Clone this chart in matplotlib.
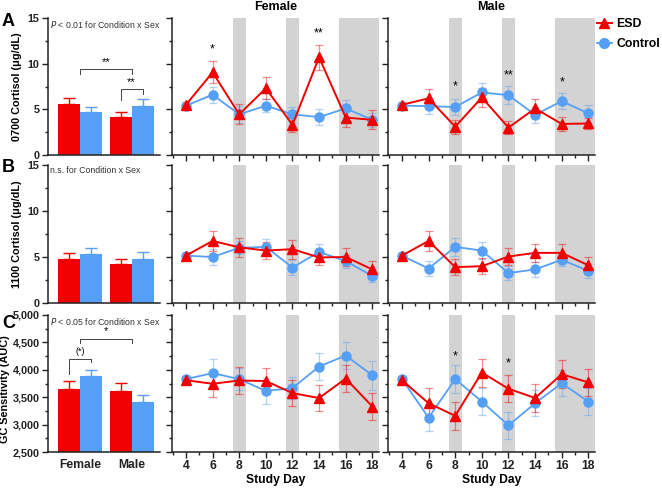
import matplotlib
matplotlib.use('Agg')
import matplotlib.pyplot as plt
from matplotlib.ticker import MultipleLocator, FuncFormatter, NullFormatter
from matplotlib.lines import Line2D

plt.rcParams['font.family'] = ['Liberation Sans', 'DejaVu Sans']

# ---------------- data ----------------
days = [4, 6, 8, 10, 12, 14, 16, 18]
sexes = ['Female', 'Male']
conditions = ['ESD', 'Control']
shade_days = [(7.5, 8.5), (11.5, 12.5), (15.5, 18.5)]

bar_a_esd = [5.55, 4.2]
bar_a_esd_err = [0.72, 0.55]
bar_a_ctrl = [4.75, 5.4]
bar_a_ctrl_err = [0.55, 0.7]
bar_b_esd = [4.75, 4.2]
bar_b_esd_err = [0.65, 0.62]
bar_b_ctrl = [5.33, 4.82]
bar_b_ctrl_err = [0.7, 0.68]
bar_c_esd = [3647, 3616]
bar_c_esd_err = [140, 140]
bar_c_ctrl = [3884, 3410]
bar_c_ctrl_err = [121, 133]

fa_esd = [5.5, 9.05, 4.45, 7.3, 3.3, 10.7, 4.1, 3.85]
fa_esd_err = [0.3, 1.2, 1.1, 1.2, 0.8, 1.35, 1.05, 1.05]
fa_ctrl = [5.4, 6.6, 4.45, 5.4, 4.45, 4.15, 5.1, 3.85]
fa_ctrl_err = [0.3, 0.9, 0.9, 0.7, 0.85, 0.85, 0.9, 0.8]
ma_esd = [5.5, 6.2, 3.1, 6.3, 3.0, 5.1, 3.4, 3.45]
ma_esd_err = [0.3, 1.0, 0.75, 1.0, 0.7, 1.0, 0.75, 0.65]
ma_ctrl = [5.4, 5.35, 5.25, 6.85, 6.55, 4.4, 5.9, 4.55]
ma_ctrl_err = [0.3, 0.9, 0.9, 1.0, 1.0, 0.9, 0.9, 0.9]

fb_esd = [5.15, 6.75, 6.05, 5.7, 5.85, 4.95, 5.0, 3.65]
fb_esd_err = [0.3, 1.1, 1.0, 0.9, 1.05, 0.85, 0.95, 0.9]
fb_ctrl = [5.15, 5.0, 6.0, 6.1, 3.85, 5.55, 4.55, 2.95]
fb_ctrl_err = [0.3, 0.87, 0.7, 0.9, 0.8, 0.9, 0.7, 0.67]
mb_esd = [5.15, 6.75, 3.9, 4.0, 5.05, 5.45, 5.45, 4.1]
mb_esd_err = [0.3, 1.1, 0.9, 0.85, 0.95, 1.0, 1.0, 0.87]
mb_ctrl = [5.15, 3.75, 6.1, 5.7, 3.25, 3.65, 4.7, 3.5]
mb_ctrl_err = [0.3, 0.78, 0.95, 0.9, 0.72, 0.78, 0.65, 0.76]

fc_esd = [3810, 3745, 3805, 3795, 3575, 3485, 3840, 3330]
fc_esd_err = [40, 240, 250, 230, 240, 240, 250, 240]
fc_ctrl = [3830, 3940, 3830, 3615, 3665, 4060, 4260, 3900]
fc_ctrl_err = [50, 250, 200, 230, 200, 250, 250, 260]
mc_esd = [3810, 3390, 3160, 3950, 3655, 3485, 3920, 3770]
mc_esd_err = [40, 270, 255, 255, 245, 250, 255, 250]
mc_ctrl = [3830, 3125, 3830, 3420, 2985, 3390, 3755, 3420]
mc_ctrl_err = [50, 250, 250, 250, 245, 240, 240, 250]

# significance marks: (day, label, y)
stars_fa = [(6, '*', 10.9), (14, '**', 12.6)]
stars_ma = [(8, '*', 6.8), (12, '**', 8.0), (16, '*', 7.3)]
stars_mc = [(8, '*', 4130), (12, '*', 4000)]

notes = ['$\\mathit{P}$ < 0.01 for Condition x Sex', 'n.s. for Condition x Sex',
         '$\\mathit{P}$ < 0.05 for Condition x Sex']
ylabels = ['0700 Cortisol (\u03bcg/dL)', '1100 Cortisol (\u03bcg/dL)', 'GC Sensitivity (AUC)']
letters = ['A', 'B', 'C']

RED = '#F00000'
BLUE = '#55A0F5'

# ---------------- figure ----------------
fig = plt.figure(figsize=(6.62, 4.88), dpi=100)
W, H = 662, 488

def ax_at(x0, x1, ytop, ybot):
    return fig.add_axes([x0 / W, 1 - ybot / H, (x1 - x0) / W, (ybot - ytop) / H])

rows = [(18, 155), (165, 303), (315, 452)]
cols = [(48, 160), (172, 379), (388, 595)]
ylabel_x = [-0.235, -0.235, -0.335]
letter_y = [22, 168, 323]

bar_data = [
    (bar_a_esd, bar_a_esd_err, bar_a_ctrl, bar_a_ctrl_err),
    (bar_b_esd, bar_b_esd_err, bar_b_ctrl, bar_b_ctrl_err),
    (bar_c_esd, bar_c_esd_err, bar_c_ctrl, bar_c_ctrl_err),
]
line_data = [
    [(fa_esd, fa_esd_err, fa_ctrl, fa_ctrl_err), (ma_esd, ma_esd_err, ma_ctrl, ma_ctrl_err)],
    [(fb_esd, fb_esd_err, fb_ctrl, fb_ctrl_err), (mb_esd, mb_esd_err, mb_ctrl, mb_ctrl_err)],
    [(fc_esd, fc_esd_err, fc_ctrl, fc_ctrl_err), (mc_esd, mc_esd_err, mc_ctrl, mc_ctrl_err)],
]
stars = [[stars_fa, stars_ma], [[], []], [[], stars_mc]]

ylims = [(0, 15), (0, 15), (2500, 5000)]
majors = [5, 5, 500]
minors = [2.5, 2.5, 250]

def style_axis(ax, r, labels=True):
    ax.set_ylim(*ylims[r])
    ax.yaxis.set_major_locator(MultipleLocator(majors[r]))
    ax.yaxis.set_minor_locator(MultipleLocator(minors[r]))
    for s in ['top', 'right']:
        ax.spines[s].set_visible(False)
    for s in ['left', 'bottom']:
        ax.spines[s].set_linewidth(1.1)
        ax.spines[s].set_color('#222222')
    ax.tick_params(axis='both', which='major', length=4, width=1.0, colors='#222222',
                   labelsize=7.8, pad=2)
    ax.tick_params(axis='both', which='minor', length=2.5, width=1.0, colors='#222222')
    if labels:
        if r == 2:
            ax.yaxis.set_major_formatter(FuncFormatter(lambda v, p: f'{int(v):,}'))
        for t in ax.get_yticklabels():
            t.set_fontweight('bold')
    else:
        ax.yaxis.set_major_formatter(NullFormatter())

bar_pos_esd = [1.0, 3.35]
bar_pos_ctrl = [2.0, 4.35]
group_centers = [1.5, 3.85]

for r in range(3):
    ytop, ybot = rows[r]
    # ---- bar panel ----
    ax = ax_at(cols[0][0], cols[0][1], ytop, ybot)
    esd, esd_e, ctl, ctl_e = bar_data[r]
    base = ylims[r][0]
    ax.bar(bar_pos_esd, [v - base for v in esd], bottom=base, width=1.0, color=RED, zorder=2)
    ax.bar(bar_pos_ctrl, [v - base for v in ctl], bottom=base, width=1.0, color=BLUE, zorder=2)
    ax.errorbar(bar_pos_esd, esd, yerr=[[0, 0], esd_e], fmt='none', ecolor=RED,
                elinewidth=1.0, capsize=4, capthick=1.0, zorder=1)
    ax.errorbar(bar_pos_ctrl, ctl, yerr=[[0, 0], ctl_e], fmt='none', ecolor=BLUE,
                elinewidth=1.0, capsize=4, capthick=1.0, zorder=1)
    ax.set_xlim(0.05, 5.14)
    style_axis(ax, r)
    ax.set_xticks(group_centers)
    if r == 2:
        ax.set_xticklabels(sexes, fontweight='bold', fontsize=8.7)
        ax.tick_params(axis='x', length=0, pad=5)
    else:
        ax.set_xticklabels([])
        ax.tick_params(axis='x', length=0)
    ax.set_ylabel(ylabels[r], fontweight='bold', fontsize=7.8)
    ax.yaxis.set_label_coords(ylabel_x[r], 0.5 if r < 2 else 0.46)
    ax.text(0.02, 0.995, notes[r], transform=ax.transAxes, fontsize=6.3, color='#333333',
            va='top', ha='left', clip_on=False, zorder=5)
    fig.text(2 / W, 1 - letter_y[r] / H, letters[r], fontsize=13, fontweight='bold',
             va='center', ha='left')

    # brackets
    bk = dict(color='#444444', lw=0.7)
    if r == 0:
        ax.plot([1.5, 1.5, 3.85, 3.85], [8.9, 9.4, 9.4, 8.9], **bk)
        ax.text(2.675, 9.6, '**', ha='center', va='bottom', fontsize=8)
        ax.plot([3.35, 3.35, 4.35, 4.35], [6.0, 7.2, 7.2, 6.7], **bk)
        ax.text(3.85, 7.4, '**', ha='center', va='bottom', fontsize=8)
    if r == 2:
        ax.plot([1.0, 1.0, 2.0, 2.0], [3920, 4195, 4195, 4140], **bk)
        ax.text(1.5, 4250, '(*)', ha='center', va='bottom', fontsize=6.5)
        ax.plot([1.5, 1.5, 3.85, 3.85], [4490, 4562, 4562, 4490], **bk)
        ax.text(2.675, 4620, '*', ha='center', va='bottom', fontsize=8)

    # ---- line panels ----
    for c in range(2):
        ax = ax_at(cols[c + 1][0], cols[c + 1][1], ytop, ybot)
        for a, b in shade_days:
            ax.axvspan(a, b, color='#D3D3D3', lw=0, zorder=0)
        esd, esd_e, ctl, ctl_e = line_data[r][c]
        ax.errorbar(days, ctl, yerr=ctl_e, fmt='none', ecolor=BLUE, alpha=0.45,
                    elinewidth=0.9, capsize=3, capthick=0.9, zorder=2)
        ax.errorbar(days, esd, yerr=esd_e, fmt='none', ecolor=RED, alpha=0.45,
                    elinewidth=0.9, capsize=3, capthick=0.9, zorder=2)
        ax.plot(days, ctl, color=BLUE, lw=1.3, marker='o', ms=6.5, zorder=3)
        ax.plot(days, esd, color=RED, lw=1.4, marker='^', ms=7, zorder=4)
        for d, s, y in stars[r][c]:
            ax.text(d, y, s, ha='center', va='bottom', fontsize=9)
        ax.set_xlim(2.95, 18.5)
        ax.set_xticks(days)
        ax.xaxis.set_minor_locator(MultipleLocator(2, offset=1))
        style_axis(ax, r, labels=False)
        if r == 2:
            for t in ax.get_xticklabels():
                t.set_fontweight('bold')
                t.set_fontsize(8.7)
            ax.set_xlabel('Study Day', fontweight='bold', fontsize=8.7, labelpad=1)
        else:
            ax.set_xticklabels([])
        if r == 0:
            ax.set_title(sexes[c], fontweight='bold', fontsize=9, pad=6)

# legend
handles = [Line2D([], [], color=RED, lw=1.4, marker='^', ms=7.5),
           Line2D([], [], color=BLUE, lw=1.3, marker='o', ms=7)]
fig.legend(handles, conditions, loc='upper left', bbox_to_anchor=(597 / W, 1 - 18 / H),
           frameon=False, prop={'weight': 'bold', 'size': 8.8}, handlelength=1.2,
           handletextpad=0.4, labelspacing=0.65, borderpad=0, borderaxespad=0)

fig.savefig('out.png', dpi=100)
